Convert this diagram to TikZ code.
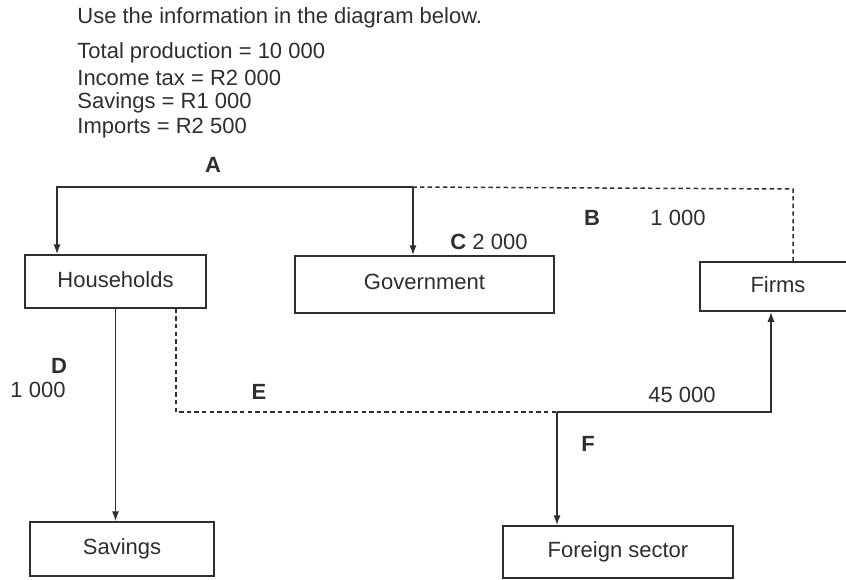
\documentclass[tikz,border=0pt]{standalone}
\usepackage{fontspec}
\setmainfont{Liberation Sans}
\usetikzlibrary{arrows.meta,calc}
\tikzset{>={Latex[length=5pt,width=3.6pt]}}
\tikzset{sector/.style={draw,rectangle,inner sep=0pt,line width=0.75pt},
    flow/.style={line width=0.75pt},
    leak/.style={line width=0.75pt,dash pattern=on 2.2pt off 1.6pt},
    line/.style={anchor=west,inner xsep=0pt},
    tag/.style={font=\fontsize{11}{12.5}\selectfont\bfseries}}

\begin{document}
\begin{tikzpicture}[x=0.5pt,y=-0.5pt,font=\fontsize{11}{12.5}\selectfont,color=black!82]
    \useasboundingbox (0,0) rectangle (846,579);
    \clip (0,0) rectangle (846,579);

    \coordinate (topA) at (413,187);
    \coordinate (topB) at (793,189);
    \coordinate (hhL) at (57,187);
    \coordinate (botE) at (176,412);
    \coordinate (jF) at (557,412);
    \coordinate (botR) at (771,412);

    \node[line] (intro) at (77,18) {Use the information in the diagram below.};
    \node[line] (total) at (77,53) {Total production = 10 000};
    \node[line] (tax) at (77,78) {Income tax = R2 000};
    \node[line] (save) at (77,103) {Savings = R1 000};
    \node[line] (imp) at (77,128) {Imports = R2 500};

    \node[sector,minimum width=90.5pt,minimum height=26.5pt] (households) at (115.5,281.5) {\raisebox{2pt}{Households}};
    \node[sector,minimum width=129.5pt,minimum height=28.5pt] (government) at (424.5,284.5) {\raisebox{3pt}{Government}};
    \node[sector,minimum width=78pt,minimum height=24.5pt] (firms) at (778,286.5) {\raisebox{1.5pt}{Firms}};
    \node[sector,minimum width=92pt,minimum height=27pt] (savings) at (122,549) {\raisebox{1.5pt}{Savings}};
    \node[sector,minimum width=115pt,minimum height=26pt] (foreign) at (618,552) {\raisebox{1.5pt}{Foreign sector}};

    \draw[leak] (firms.north -| topB) -- (topB) -- (topA);
    \draw[flow,->] (topA) -- (hhL) -- (households.north -| hhL);
    \draw[flow,->] (topA) -- (government.north -| topA);

    \draw[flow,->] (households.south) -- (households.south |- savings.north);
    \draw[leak] (households.south -| botE) -- (botE) -- (jF);
    \draw[flow,->] (jF) -- (botR) -- (firms.south -| botR);
    \draw[flow,->] (jF) -- (foreign.north -| jF);

    \node[tag] (lblA) at (213,165) {A};
    \node[tag] (lblB) at (592,218) {B};
    \node (valB) at (678,218) {1 000};
    \node (lblC) at (489,242) {\textbf{C} 2 000};
    \node[tag] (lblD) at (59,366) {D};
    \node (valD) at (38,390) {1 000};
    \node[tag] (lblE) at (259,392) {E};
    \node (valE) at (682,395) {45 000};
    \node[tag] (lblF) at (588,444) {F};
\end{tikzpicture}
\end{document}
